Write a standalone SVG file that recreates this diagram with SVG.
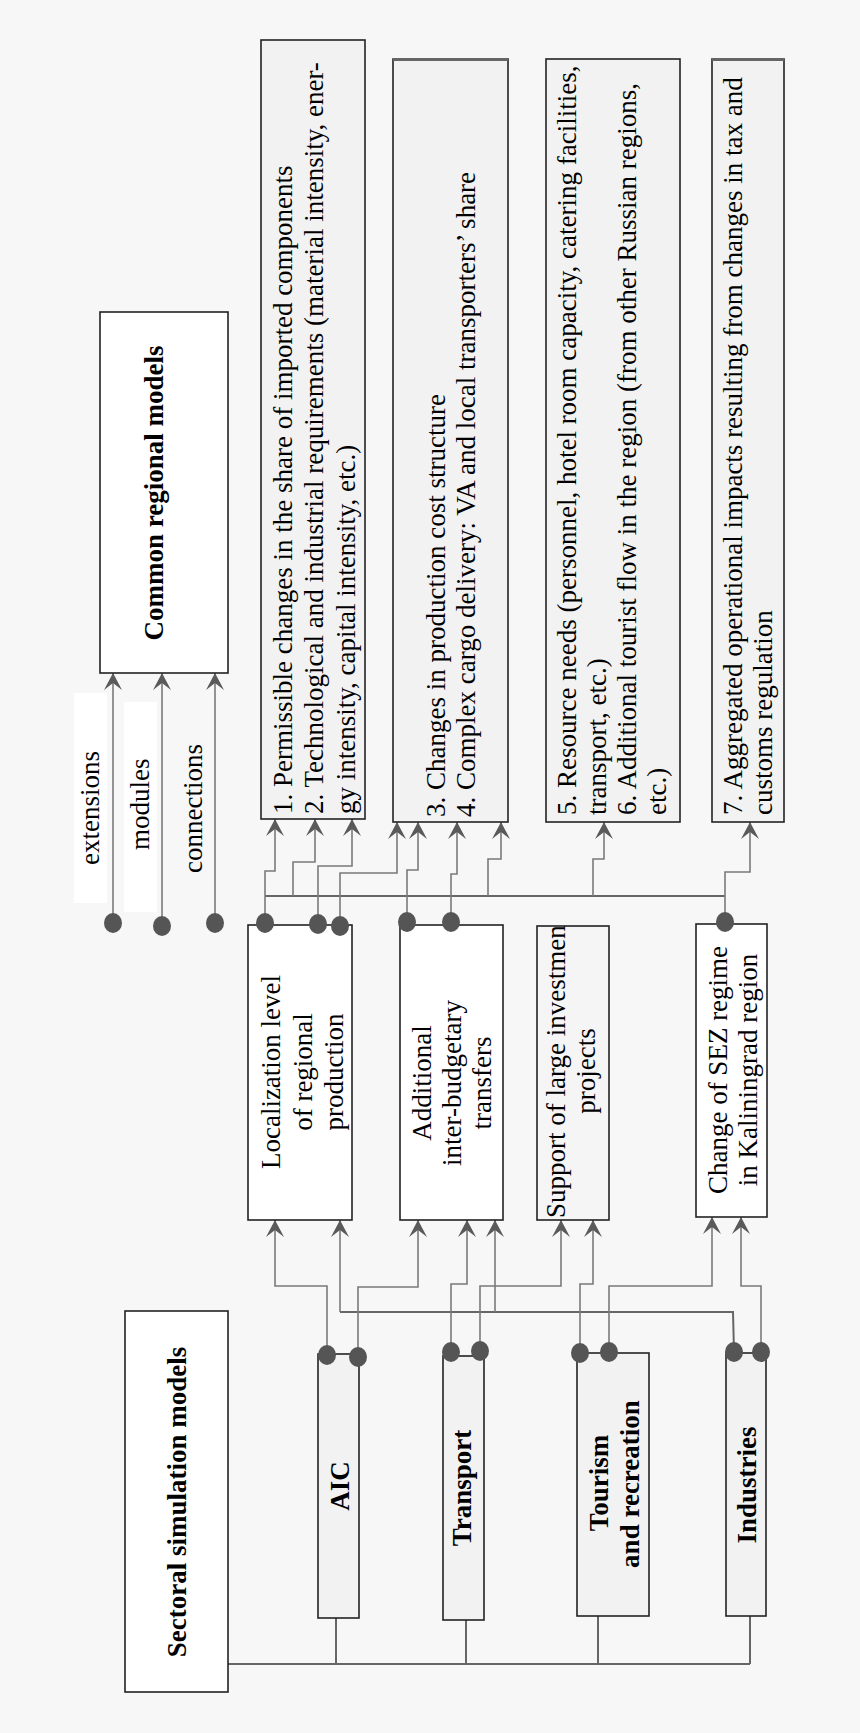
<svg xmlns="http://www.w3.org/2000/svg" width="860" height="1733" viewBox="0 0 860 1733">
<defs>
<marker id="arr" markerUnits="userSpaceOnUse" markerWidth="20" markerHeight="20" refX="0" refY="0" viewBox="-18 -10 20 20" orient="auto">
<path d="M0,0 L-17,-9 L-10,0 L-17,9 Z" fill="#5a5a5a"/>
</marker>
<style>
.t{font-family:"Liberation Serif","Times New Roman",serif;font-size:27px;fill:#000}
.b{font-weight:bold}
.box{stroke:#222;stroke-width:1.6}
.w{fill:#fff}
.g{fill:#f2f2f2}
.c{fill:none;stroke:#7a7a7a;stroke-width:1.6}
.a{marker-end:url(#arr)}
.bus{fill:none;stroke:#666;stroke-width:2}
.dot{fill:#555}
</style>
</defs>
<rect width="860" height="1733" fill="#f7f7f7"/>

<g id="connectors">
<path class="c a" d="M113,923 V673"/>
<path class="c a" d="M162,926 V673"/>
<path class="c a" d="M215,923 V673"/>
<path class="bus" d="M265,896 H725"/>
<path class="c a" d="M265,923 V871 H275 V819"/>
<path class="c a" d="M293,896 V862 H315 V819"/>
<path class="c a" d="M318,923 V866 H352 V819"/>
<path class="c a" d="M340,926 V873 H397 V822"/>
<path class="c a" d="M407,922 V870 H418 V822"/>
<path class="c a" d="M451,922 V874 H457 V822"/>
<path class="c a" d="M488,896 V859 H501 V822"/>
<path class="c a" d="M593,896 V859 H604 V822"/>
<path class="c a" d="M725,922 V872 H750 V822"/>
<path class="c a" d="M327,1355 V1286 H275 V1220"/>
<path class="bus" d="M734,1352 L733,1312 H340"/>
<path class="c a" d="M340,1312 V1220"/>
<path class="c a" d="M358,1357 V1287 H418 V1220"/>
<path class="c a" d="M451,1352 V1284 H467 V1220"/>
<path class="c a" d="M495,1312 V1220"/>
<path class="c a" d="M480,1351 V1286 H561 V1220"/>
<path class="c a" d="M580,1353 V1284 H593 V1220"/>
<path class="c a" d="M609,1352 V1286 H712 V1217"/>
<path class="c a" d="M761,1352 V1286 H741 V1217"/>
<path class="bus" d="M228,1664 H750 M336,1618 V1664 M466,1620 V1664 M598,1616 V1664 M750,1616 V1664"/>
</g>

<g id="labels">
<rect x="74" y="693" width="33" height="210" fill="#fff"/>
<rect x="124" y="702" width="33" height="210" fill="#fff"/>
<text class="t" transform="translate(99,865) rotate(-90)">extensions</text>
<text class="t" transform="translate(149,850) rotate(-90)">modules</text>
<text class="t" transform="translate(202,873) rotate(-90)">connections</text>
</g>

<g id="common">
<rect class="box w" x="100" y="312" width="128" height="361"/>
<text class="t b" text-anchor="middle" transform="translate(163,493) rotate(-90)">Common regional models</text>
</g>

<g id="box1">
<rect class="box g" x="261" y="40" width="104" height="779"/>
<text class="t" transform="translate(292,814) rotate(-90)">1. Permissible changes in the share of imported components</text>
<text class="t" transform="translate(323,814) rotate(-90)">2. Technological and industrial requirements (material intensity, ener-</text>
<text class="t" transform="translate(355,814) rotate(-90)">gy intensity, capital intensity, etc.)</text>
</g>

<g id="box2">
<rect class="box g" x="393" y="59" width="115" height="763"/>
<path d="M393,59.5 H508" stroke="#666" stroke-width="3"/>
<text class="t" transform="translate(445,817) rotate(-90)">3. Changes in production cost structure</text>
<text class="t" transform="translate(475,817) rotate(-90)">4. Complex cargo delivery: VA and local transporters’ share</text>
</g>

<g id="box3">
<rect class="box g" x="546" y="59" width="134" height="763"/>
<text class="t" transform="translate(576,815) rotate(-90)">5. Resource needs (personnel, hotel room capacity, catering facilities,</text>
<text class="t" transform="translate(606,815) rotate(-90)">transport, etc.)</text>
<text class="t" transform="translate(636,815) rotate(-90)">6. Additional tourist flow in the region (from other Russian regions,</text>
<text class="t" transform="translate(666,815) rotate(-90)">etc.)</text>
</g>

<g id="box4">
<rect class="box g" x="712" y="59" width="72" height="763"/>
<path d="M712,59.5 H784" stroke="#666" stroke-width="3"/>
<text class="t" transform="translate(742,815) rotate(-90)">7. Aggregated operational impacts resulting from changes in tax and</text>
<text class="t" transform="translate(772,815) rotate(-90)">customs regulation</text>
</g>

<g id="localization">
<rect class="box w" x="248" y="925" width="104" height="295"/>
<text class="t" text-anchor="middle" transform="translate(280,1072) rotate(-90)">Localization level</text>
<text class="t" text-anchor="middle" transform="translate(311.5,1072) rotate(-90)">of regional</text>
<text class="t" text-anchor="middle" transform="translate(343,1072) rotate(-90)">production</text>
</g>

<g id="transfers">
<rect class="box w" x="400" y="925" width="103" height="295"/>
<text class="t" text-anchor="middle" transform="translate(430.5,1083) rotate(-90)">Additional</text>
<text class="t" text-anchor="middle" transform="translate(461,1083) rotate(-90)">inter-budgetary</text>
<text class="t" text-anchor="middle" transform="translate(491,1083) rotate(-90)">transfers</text>
</g>

<g id="support">
<rect class="box" fill="#f5f5f5" x="537" y="926" width="72" height="294"/>
<text class="t" transform="translate(565,1218) rotate(-90)">Support of large investmen</text>
<text class="t" text-anchor="middle" transform="translate(595,1071) rotate(-90)">projects</text>
</g>

<g id="sez">
<rect class="box w" x="696" y="924" width="71" height="293"/>
<text class="t" text-anchor="middle" transform="translate(727,1070) rotate(-90)">Change of SEZ regime</text>
<text class="t" text-anchor="middle" transform="translate(757,1070) rotate(-90)">in Kaliningrad region</text>
</g>

<g id="sectoral">
<rect class="box w" x="125" y="1311" width="103" height="381"/>
<text class="t b" text-anchor="middle" transform="translate(186,1502) rotate(-90)">Sectoral simulation models</text>
</g>

<g id="aic">
<rect class="box g" x="318" y="1354" width="41" height="264"/>
<text class="t b" text-anchor="middle" transform="translate(349,1486) rotate(-90)">AIC</text>
</g>

<g id="transport">
<rect class="box g" x="443" y="1356" width="41" height="264"/>
<text class="t b" text-anchor="middle" transform="translate(471,1488) rotate(-90)">Transport</text>
</g>

<g id="tourism">
<rect class="box g" x="577" y="1353" width="72" height="263"/>
<text class="t b" text-anchor="middle" transform="translate(608,1483) rotate(-90)">Tourism</text>
<text class="t b" text-anchor="middle" transform="translate(639,1484) rotate(-90)">and recreation</text>
</g>

<g id="industries">
<rect class="box g" x="726" y="1353" width="40" height="263"/>
<text class="t b" text-anchor="middle" transform="translate(756,1485) rotate(-90)">Industries</text>
</g>

<g id="dots">
<ellipse class="dot" cx="113" cy="923" rx="9" ry="10"/>
<ellipse class="dot" cx="162" cy="926" rx="9" ry="10"/>
<ellipse class="dot" cx="215" cy="923" rx="9" ry="10"/>
<ellipse class="dot" cx="265" cy="923" rx="9" ry="10"/>
<ellipse class="dot" cx="318" cy="924" rx="9" ry="10"/>
<ellipse class="dot" cx="340" cy="926" rx="9" ry="10"/>
<ellipse class="dot" cx="407" cy="922" rx="9" ry="10"/>
<ellipse class="dot" cx="451" cy="922" rx="9" ry="10"/>
<ellipse class="dot" cx="725" cy="922" rx="9" ry="10"/>
<ellipse class="dot" cx="327" cy="1355" rx="9" ry="10"/>
<ellipse class="dot" cx="358" cy="1357" rx="9" ry="10"/>
<ellipse class="dot" cx="451" cy="1352" rx="9" ry="10"/>
<ellipse class="dot" cx="480" cy="1351" rx="9" ry="10"/>
<ellipse class="dot" cx="580" cy="1353" rx="9" ry="10"/>
<ellipse class="dot" cx="609" cy="1352" rx="9" ry="10"/>
<ellipse class="dot" cx="734" cy="1352" rx="9" ry="10"/>
<ellipse class="dot" cx="761" cy="1352" rx="9" ry="10"/>
</g>
</svg>
